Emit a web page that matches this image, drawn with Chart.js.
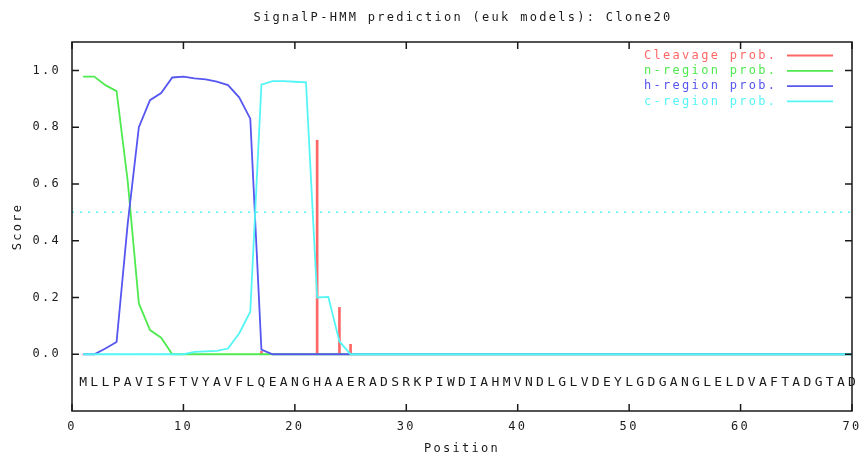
<!DOCTYPE html>
<html>
<head>
<meta charset="utf-8">
<script src="https://cdn.jsdelivr.net/npm/chart.js@4.4.0/dist/chart.umd.min.js"></script>
<style>
    html, body { margin: 0; padding: 0; background: #fff; }
    #wrap { width: 861px; height: 455px; position: relative; }
</style>
</head>
<body>
<div id="wrap"><canvas id="signalChart"></canvas></div>
<script>
const TITLE = 'SignalP-HMM prediction (euk models): Clone20';
const SEQUENCE = 'MLLPAVISFTVYAVFLQEANGHAAERADSRKPIWDIAHMVNDLGLVDEYLGDGANGLELDVAFTADGTAD'.split('');
const POSITIONS = SEQUENCE.map((aa, i) => i + 1);

const CLEAVAGE = [
    0, 0, 0, 0, 0, 0, 0, 0, 0, 0,
    0, 0, 0, 0, 0, 0, 0.01, 0, 0, 0,
    0, 0.754, 0, 0.165, 0.035, 0, 0, 0, 0, 0,
    0, 0, 0, 0, 0, 0, 0, 0, 0, 0,
    0, 0, 0, 0, 0, 0, 0, 0, 0, 0,
    0, 0, 0, 0, 0, 0, 0, 0, 0, 0,
    0, 0, 0, 0, 0, 0, 0, 0, 0, 0
];
const N_REGION = [
    0.978, 0.978, 0.948, 0.927, 0.61, 0.179, 0.085, 0.058, 0, 0,
    0, 0, 0, 0, 0, 0, 0, 0, 0, 0,
    0, 0, 0, 0, 0, 0, 0, 0, 0, 0,
    0, 0, 0, 0, 0, 0, 0, 0, 0, 0,
    0, 0, 0, 0, 0, 0, 0, 0, 0, 0,
    0, 0, 0, 0, 0, 0, 0, 0, 0, 0,
    0, 0, 0, 0, 0, 0, 0, 0, 0, 0
];
const H_REGION = [
    0, 0, 0.02, 0.043, 0.46, 0.80, 0.895, 0.92, 0.975, 0.978,
    0.972, 0.968, 0.96, 0.948, 0.905, 0.83, 0.016, 0, 0, 0,
    0, 0, 0, 0, 0, 0, 0, 0, 0, 0,
    0, 0, 0, 0, 0, 0, 0, 0, 0, 0,
    0, 0, 0, 0, 0, 0, 0, 0, 0, 0,
    0, 0, 0, 0, 0, 0, 0, 0, 0, 0,
    0, 0, 0, 0, 0, 0, 0, 0, 0, 0
];
const C_REGION = [
    0, 0, 0, 0, 0, 0, 0, 0, 0, 0,
    0.008, 0.01, 0.012, 0.02, 0.073, 0.15, 0.95, 0.962, 0.962, 0.96,
    0.958, 0.2, 0.202, 0.045, 0, 0, 0, 0, 0, 0,
    0, 0, 0, 0, 0, 0, 0, 0, 0, 0,
    0, 0, 0, 0, 0, 0, 0, 0, 0, 0,
    0, 0, 0, 0, 0, 0, 0, 0, 0, 0,
    0, 0, 0, 0, 0, 0, 0, 0, 0, 0
];
const CUTOFF = 0.5;
const SEQUENCE_LEVEL = -0.1;
const X_TICKS = [0, 10, 20, 30, 40, 50, 60, 70];
const Y_TICKS = [0, 0.2, 0.4, 0.6, 0.8, 1.0];
const SERIES_LABELS = ['Cleavage prob.', 'n-region prob.', 'h-region prob.', 'c-region prob.'];

const COLORS = ['#ff6666', '#4fea4f', '#5656f0', '#55f5f5'];
const INK = '#1a1a1a';
const FONT = { family: "'DejaVu Sans Mono', monospace", size: 12, weight: 'normal' };

const toPoints = values => POSITIONS.map((p, i) => ({ x: p, y: values[i] }));

// gnuplot look: closed frame, inward ticks, title over the plot, residue letters, legend
const gnuplotFrame = {
    id: 'gnuplotFrame',
    beforeDraw(chart) {
        chart.ctx.letterSpacing = '2.3px';
    },
    afterDatasetsDraw(chart) {
        const { ctx, chartArea: a, scales: { x, y } } = chart;
        ctx.save();

        ctx.fillStyle = INK;
        ctx.font = "12px 'DejaVu Sans Mono'";
        ctx.letterSpacing = '2.3px';
        ctx.textAlign = 'center';
        ctx.textBaseline = 'middle';
        ctx.fillText(TITLE, (a.left + a.right) / 2 + 1, 18);

        ctx.letterSpacing = '0px';
        ctx.font = "13px 'DejaVu Sans Mono'";
        const seqY = y.getPixelForValue(SEQUENCE_LEVEL);
        SEQUENCE.forEach((aa, i) => ctx.fillText(aa, x.getPixelForValue(POSITIONS[i]), seqY));

        ctx.strokeStyle = INK;
        ctx.lineWidth = 1.5;
        ctx.strokeRect(a.left, a.top, a.width, a.height);
        const tick = 7;
        ctx.beginPath();
        X_TICKS.forEach(v => {
            const px = x.getPixelForValue(v);
            ctx.moveTo(px, a.bottom); ctx.lineTo(px, a.bottom - tick);
            ctx.moveTo(px, a.top); ctx.lineTo(px, a.top + tick);
        });
        Y_TICKS.forEach(v => {
            const py = y.getPixelForValue(v);
            ctx.moveTo(a.left, py); ctx.lineTo(a.left + tick, py);
            ctx.moveTo(a.right, py); ctx.lineTo(a.right - tick, py);
        });
        ctx.stroke();

        ctx.font = "12px 'DejaVu Sans Mono'";
        ctx.letterSpacing = '2.3px';
        ctx.textAlign = 'left';
        SERIES_LABELS.forEach((label, i) => {
            const ry = a.top + 13.5 + i * 15.3;
            ctx.fillStyle = COLORS[i];
            ctx.fillText(label, a.right - 208, ry);
            ctx.strokeStyle = COLORS[i];
            ctx.lineWidth = 1.8;
            ctx.beginPath();
            ctx.moveTo(a.right - 65, ry);
            ctx.lineTo(a.right - 19, ry);
            ctx.stroke();
        });
        ctx.restore();
    }
};

new Chart(document.getElementById('signalChart'), {
    type: 'line',
    data: {
        datasets: [
            { label: SERIES_LABELS[3], data: toPoints(C_REGION), borderColor: COLORS[3], order: 1 },
            { label: SERIES_LABELS[2], data: toPoints(H_REGION), borderColor: COLORS[2], order: 2 },
            { label: SERIES_LABELS[1], data: toPoints(N_REGION), borderColor: COLORS[1], order: 3 },
            {
                type: 'bar',
                label: SERIES_LABELS[0],
                data: toPoints(CLEAVAGE),
                backgroundColor: COLORS[0],
                borderWidth: 0,
                barThickness: 2,
                order: 4
            },
            {
                label: 'cutoff',
                data: [{ x: X_TICKS[0], y: CUTOFF }, { x: X_TICKS[X_TICKS.length - 1], y: CUTOFF }],
                borderColor: COLORS[3],
                borderWidth: 1.5,
                borderDash: [2, 6],
                order: 5
            }
        ]
    },
    options: {
        responsive: true,
        maintainAspectRatio: false,
        animation: false,
        layout: { padding: { left: 0, right: 9, top: 42, bottom: 0 } },
        elements: {
            point: { radius: 0 },
            line: { borderWidth: 1.8, tension: 0, fill: false }
        },
        plugins: {
            legend: { display: false },
            tooltip: { enabled: false },
            title: { display: false }
        },
        scales: {
            x: {
                type: 'linear',
                min: 0,
                max: 70,
                offset: false,
                grid: { display: false, drawTicks: false },
                border: { display: false },
                afterBuildTicks: s => { s.ticks = X_TICKS.map(v => ({ value: v })); },
                afterFit: s => { s.height = 44; s.paddingLeft = 0; s.paddingRight = 0; },
                ticks: { color: INK, font: FONT, padding: 9, maxRotation: 0, autoSkip: false },
                title: { display: true, text: 'Position', color: INK, font: FONT, padding: { top: 0, bottom: -1 } }
            },
            y: {
                min: -0.2,
                max: 1.1,
                grid: { display: false, drawTicks: false },
                border: { display: false },
                afterBuildTicks: s => { s.ticks = Y_TICKS.map(v => ({ value: v })); },
                afterFit: s => { s.width = 72; },
                ticks: { color: INK, font: FONT, padding: 11, callback: v => Number(v).toFixed(1) },
                title: { display: true, text: 'Score', color: INK, font: FONT, padding: { top: 11, bottom: 0 } }
            }
        }
    },
    plugins: [gnuplotFrame]
});
</script>
</body>
</html>
